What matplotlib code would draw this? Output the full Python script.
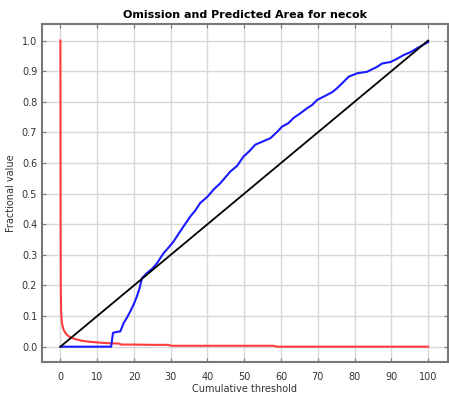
import numpy as np
import matplotlib.pyplot as plt

# red curve (fraction of background predicted)
red_x = [0, 0.05, 0.1, 0.2, 0.4, 0.7, 1.0, 1.5, 2, 3, 4, 5, 6, 8, 10, 12, 14, 16,
         16.5, 20, 25, 29.5, 30, 40, 50, 58, 59, 70, 80, 90, 100]
red_y = [1.0, 0.5, 0.2, 0.11, 0.08, 0.062, 0.052, 0.043, 0.036, 0.029, 0.025, 0.022,
         0.019, 0.016, 0.014, 0.012, 0.011, 0.010, 0.007, 0.007, 0.006, 0.006, 0.003,
         0.003, 0.003, 0.003, 0.0, 0.0, 0.0, 0.0, 0.0]

# blue curve (omission on training samples)
blue_x = [0, 13.8, 14.3, 15.2, 16.3, 17.2, 18.1, 19.0, 20.0, 20.8, 21.5, 22.2, 23.5,
          25.0, 26.3, 27.2, 28.1, 29.5, 30.8, 32.2, 33.5, 35.3, 36.7, 38.0, 40.0,
          41.8, 43.5, 46.2, 48.0, 49.8, 51.5, 53.0, 55.0, 57.1, 58.8, 60.3, 62.0,
          63.4, 65.2, 67.1, 68.5, 69.8, 72.6, 74.0, 75.3, 77.0, 78.4, 80.7, 83.4,
          86.1, 87.5, 89.8, 91.5, 93.4, 95.2, 97.0, 98.5, 100]
blue_y = [0.0, 0.0, 0.045, 0.048, 0.05, 0.077, 0.095, 0.115, 0.14, 0.164, 0.19, 0.224,
          0.24, 0.255, 0.273, 0.29, 0.306, 0.325, 0.344, 0.37, 0.393, 0.425, 0.445,
          0.469, 0.49, 0.515, 0.534, 0.572, 0.59, 0.621, 0.64, 0.66, 0.67, 0.681,
          0.70, 0.719, 0.73, 0.747, 0.762, 0.779, 0.79, 0.806, 0.823, 0.832, 0.845,
          0.865, 0.882, 0.893, 0.898, 0.914, 0.925, 0.93, 0.94, 0.953, 0.962, 0.975,
          0.985, 0.995]

# black line (predicted omission)
black_x = [0, 100]
black_y = [0.0, 1.0]

xticks = np.arange(0, 101, 10)
yticks = np.round(np.arange(0, 1.01, 0.1), 1)

fig = plt.figure(figsize=(4.49, 4.0), dpi=100)
ax = fig.add_axes([42 / 449, 38 / 400, 406 / 449, 338 / 400])

ax.plot(red_x, red_y, color='#ff3b3b', lw=1.5)
ax.plot(blue_x, blue_y, color='#1a1aff', lw=1.5)
ax.plot(black_x, black_y, color='black', lw=1.3)

ax.set_xlim(-5, 105.4)
ax.set_ylim(-0.05, 1.054)
ax.set_xticks(xticks)
ax.set_yticks(yticks)
ax.set_yticklabels(['%.1f' % v for v in yticks])
ax.grid(True, color='#d8d8d8', lw=1)
ax.set_axisbelow(True)
ax.tick_params(direction='in', length=3, color='#777777', labelsize=7,
               labelcolor='#333333', top=True, right=True)
ax.tick_params(axis='x', pad=7)
ax.tick_params(axis='y', pad=3.5)
for s in ax.spines.values():
    s.set_color('#777777')
    s.set_linewidth(1.5)

ax.set_title('Omission and Predicted Area for necok', fontsize=8, fontweight='bold', pad=4)
ax.set_xlabel('Cumulative threshold', fontsize=7, color='#333333', labelpad=2)
ax.set_ylabel('Fractional value', fontsize=7, color='#333333', labelpad=4)

fig.savefig('out.png', dpi=100)
